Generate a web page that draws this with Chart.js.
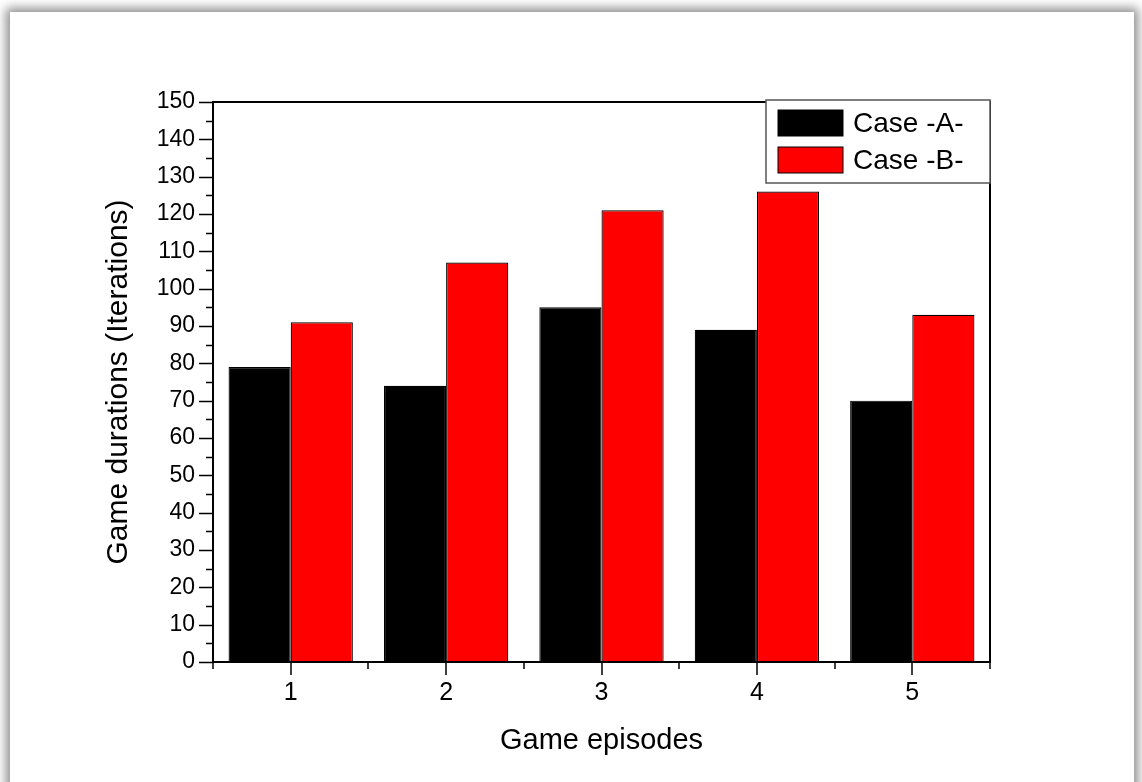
<!DOCTYPE html>
<html>
<head>
<meta charset="utf-8">
<script src="https://cdn.jsdelivr.net/npm/chart.js@4"></script>
<style>
  html, body { margin: 0; padding: 0; background: #fff; overflow: hidden; }
  #card {
    position: absolute; left: 10px; top: 12px; width: 1124px; height: 820px;
    background: #fff; box-shadow: 0 0 10px 4px rgba(0, 0, 0, 0.45);
  }
  #wrap { position: absolute; left: 0; top: 0; width: 1142px; height: 782px; }
</style>
</head>
<body>
<div id="card"></div>
<div id="wrap"><canvas id="chart" width="1142" height="782"></canvas></div>
<script>
const episodes = ["1", "2", "3", "4", "5"];
const caseA = [79, 74, 95, 89, 70];
const caseB = [91, 107, 121, 126, 93];
const seriesNames = ["Case -A-", "Case -B-"];
const yTicks = { min: 0, max: 150, step: 10, minor: 5 };

const FONT = '"Liberation Sans", Arial, sans-serif';

// frame, ticks (major + minor) drawn through the scales
const axisPlugin = {
    id: "axisFrame",
    afterDatasetsDraw(chart) {
        const { ctx, chartArea: a, scales: { x, y } } = chart;
        ctx.save();
        ctx.strokeStyle = "#000";
        ctx.lineWidth = 2;
        ctx.strokeRect(a.left, a.top, a.right - a.left, a.bottom - a.top);

        ctx.lineWidth = 1.5;
        ctx.beginPath();
        for (let v = yTicks.min; v <= yTicks.max; v += yTicks.minor) {
            const py = Math.round(y.getPixelForValue(v)) + 0.5;
            const len = v % yTicks.step === 0 ? 14 : 7;
            ctx.moveTo(a.left, py);
            ctx.lineTo(a.left - len, py);
        }
        for (let i = 0; i < episodes.length; i++) {
            const px = Math.round(x.getPixelForValue(i));
            ctx.moveTo(px, a.bottom);
            ctx.lineTo(px, a.bottom + 13);
        }
        for (let i = -0.5; i <= episodes.length - 0.5; i += 1) {
            const px = Math.round(x.getPixelForValue(i));
            ctx.moveTo(px, a.bottom);
            ctx.lineTo(px, a.bottom + 7);
        }
        ctx.stroke();
        ctx.restore();
    }
};

// boxed legend in the top right corner
const legendPlugin = {
    id: "boxLegend",
    afterDraw(chart) {
        const { ctx, chartArea: a } = chart;
        const w = 224, h = 83;
        const lx = a.right - w, ly = a.top - 2;
        ctx.save();
        ctx.fillStyle = "#fff";
        ctx.fillRect(lx, ly, w, h);
        ctx.strokeStyle = "#555";
        ctx.lineWidth = 1.5;
        ctx.strokeRect(lx, ly, w, h);
        ctx.font = "28px " + FONT;
        ctx.textBaseline = "middle";
        chart.data.datasets.forEach((ds, i) => {
            const cy = ly + 23 + i * 37;
            ctx.fillStyle = ds.backgroundColor;
            ctx.fillRect(lx + 12, cy - 13, 65, 26);
            ctx.strokeStyle = "#000";
            ctx.lineWidth = 1;
            ctx.strokeRect(lx + 12, cy - 13, 65, 26);
            ctx.fillStyle = "#000";
            ctx.fillText(ds.label, lx + 87, cy + 1);
        });
        ctx.restore();
    }
};

new Chart(document.getElementById("chart"), {
    type: "bar",
    data: {
        labels: episodes,
        datasets: [
            { label: seriesNames[0], data: caseA, backgroundColor: "#000000", borderColor: "#000", borderWidth: 1.2 },
            { label: seriesNames[1], data: caseB, backgroundColor: "#ff0000", borderColor: "#000", borderWidth: 1.2 }
        ]
    },
    options: {
        responsive: false,
        animation: false,
        layout: { padding: { top: 102, right: 152, left: 101, bottom: 0 } },
        datasets: { bar: { categoryPercentage: 0.8, barPercentage: 1.0 } },
        plugins: { legend: { display: false }, tooltip: { enabled: false } },
        scales: {
            x: {
                grid: { display: false, drawTicks: false },
                border: { display: false },
                ticks: { color: "#000", padding: 16, font: { family: FONT, size: 25 } },
                title: {
                    display: true, text: "Game episodes", color: "#000",
                    font: { family: FONT, size: 29 }, padding: { top: 0, bottom: 24 }
                },
                afterFit(s) { s.height = 120; }
            },
            y: {
                min: yTicks.min,
                max: yTicks.max,
                grid: { display: false, drawTicks: false },
                border: { display: false },
                ticks: { stepSize: yTicks.step, color: "#000", padding: 18, font: { family: FONT, size: 23 } },
                title: {
                    display: true, text: "Game durations (Iterations)", color: "#000",
                    font: { family: FONT, size: 30 }, padding: { top: 0, bottom: 0 }
                },
                afterFit(s) { s.width = 112; }
            }
        }
    },
    plugins: [axisPlugin, legendPlugin]
});
</script>
</body>
</html>
